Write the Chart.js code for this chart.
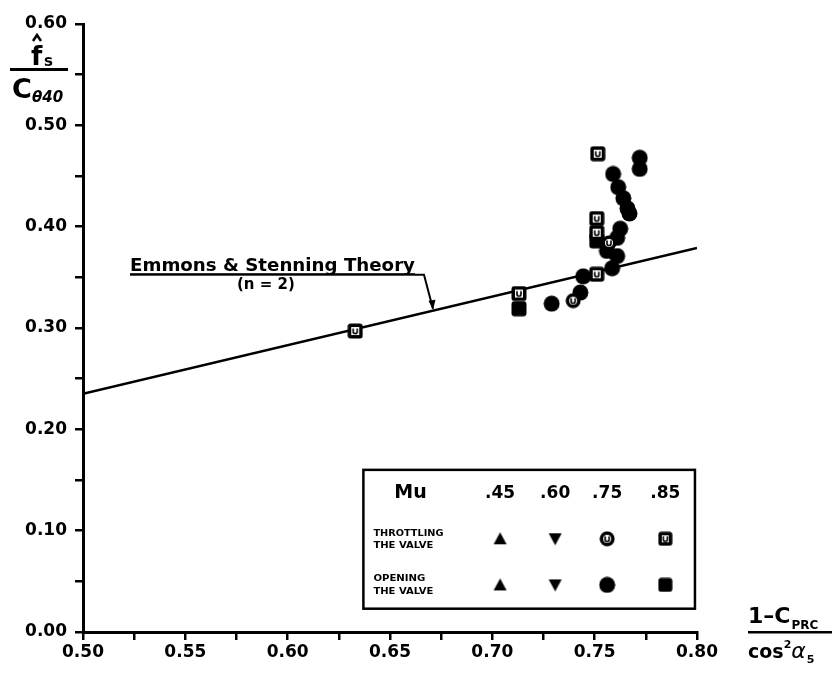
<!DOCTYPE html>
<html lang="en">
<head>
<meta charset="UTF-8" />
<title>Emmons & Stenning Theory</title>
<script src="https://cdn.jsdelivr.net/npm/chart.js"></script>
<style>
  html, body { margin: 0; padding: 0; background: #fff; }
  #wrap { width: 835px; height: 673px; }
</style>
</head>
<body>
<div id="wrap"><canvas id="chart" width="835" height="673"></canvas></div>
<script>
  // values
  const xTickLabels = ['0.50', '0.55', '0.60', '0.65', '0.70', '0.75', '0.80'];
  const yTickLabels = ['0.00', '0.10', '0.20', '0.30', '0.40', '0.50', '0.60'];

  // Emmons & Stenning theory (n = 2), straight line
  const theoryX = [0.50, 0.80];
  const theoryY = [0.235, 0.379];

  // Mu = .75, throttling the valve (open circle)
  const thr75X = [0.7395, 0.757];
  const thr75Y = [0.327, 0.384];

  // Mu = .85, throttling the valve (open square)
  const thr85X = [0.633, 0.713, 0.751, 0.751, 0.751, 0.7515];
  const thr85Y = [0.297, 0.334, 0.353, 0.394, 0.408, 0.472];

  // Mu = .75, opening the valve (filled circle)
  const open75X = [0.729, 0.743, 0.7444, 0.756, 0.7585, 0.761, 0.761, 0.7625, 0.766, 0.764, 0.7615, 0.759, 0.772, 0.772, 0.767];
  const open75Y = [0.324, 0.335, 0.351, 0.376, 0.359, 0.371, 0.389, 0.398, 0.418, 0.428, 0.439, 0.452, 0.457, 0.468, 0.413];

  // Mu = .85, opening the valve (filled square)
  const open85X = [0.713, 0.751];
  const open85Y = [0.319, 0.386];

  const legendCols = ['.45', '.60', '.75', '.85'];

  const FONT = '"DejaVu Sans", sans-serif';

  function pts(xs, ys) { return xs.map((x, i) => ({ x: x, y: ys[i] })); }

  // little marker images
  function marker(kind, size) {
    const c = document.createElement('canvas');
    c.width = size; c.height = size;
    const g = c.getContext('2d');
    const m = size / 2;
    g.fillStyle = '#000';
    g.strokeStyle = '#000';
    if (kind === 'square' || kind === 'openSquare') {
      g.beginPath();
      g.roundRect(0.5, 0.5, size - 1, size - 1, 3);
      g.fill();
      if (kind === 'openSquare') {
        g.fillStyle = '#fff';
        g.fillRect(4, 4, size - 8, size - 8);
      }
    } else if (kind === 'circle' || kind === 'openCircle') {
      g.beginPath();
      g.arc(m, m, m - 0.5, 0, Math.PI * 2);
      g.fill();
      if (kind === 'openCircle') {
        g.fillStyle = '#fff';
        g.beginPath();
        g.arc(m, m, m - 4, 0, Math.PI * 2);
        g.fill();
      }
    } else if (kind === 'up') {
      g.beginPath();
      g.moveTo(m, 1); g.lineTo(size - 1, size - 2); g.lineTo(1, size - 2);
      g.closePath(); g.fill();
    } else if (kind === 'down') {
      g.beginPath();
      g.moveTo(1, 2); g.lineTo(size - 1, 2); g.lineTo(m, size - 1);
      g.closePath(); g.fill();
    }
    if (kind === 'openSquare' || kind === 'openCircle') {
      // the small "u" inside the open symbols
      g.lineWidth = 1.6;
      g.beginPath();
      g.moveTo(m - 2, m - 2.5);
      g.lineTo(m - 2, m + 1);
      g.quadraticCurveTo(m - 2, m + 2.5, m, m + 2.5);
      g.quadraticCurveTo(m + 2, m + 2.5, m + 2, m + 1);
      g.lineTo(m + 2, m - 2.5);
      g.stroke();
    }
    return c;
  }

  const mk = {
    openSquare: marker('openSquare', 16),
    square: marker('square', 16),
    openCircle: marker('openCircle', 16),
    circle: marker('circle', 17)
  };
  const legendMk = {
    up: marker('up', 15),
    down: marker('down', 15),
    openCircle: marker('openCircle', 16),
    openSquare: marker('openSquare', 15),
    circle: marker('circle', 17),
    square: marker('square', 15)
  };

  function fitText(g, text, x, y, w) {
    const tw = g.measureText(text).width;
    g.save();
    g.translate(x, y);
    g.scale(w / tw, 1);
    g.fillText(text, 0, 0);
    g.restore();
  }

  const decorations = {
    id: 'decorations',
    beforeDraw(chart) {
      const g = chart.ctx;
      g.save();
      g.fillStyle = '#fff';
      g.fillRect(0, 0, chart.width, chart.height);
      g.restore();
    },
    afterDraw(chart) {
      const g = chart.ctx;
      const xs = chart.scales.x, ys = chart.scales.y;
      g.save();
      g.fillStyle = '#000';
      g.strokeStyle = '#000';
      g.textBaseline = 'alphabetic';
      g.textAlign = 'left';

      // y axis title: f-hat_s over C_theta40
      g.font = 'bold 26px ' + FONT;
      g.fillText('f', 31, 65);
      g.lineWidth = 2.5;
      g.beginPath();
      g.moveTo(33, 41); g.lineTo(37, 35); g.lineTo(41, 41);
      g.stroke();
      g.font = 'bold 15px ' + FONT;
      g.fillText('s', 44, 66);
      g.fillRect(10, 68, 58, 3);
      g.font = 'bold 27px ' + FONT;
      g.fillText('C', 12, 98);
      g.font = 'italic bold 15px ' + FONT;
      g.fillText('\u03b840', 32, 102);

      // x axis title: (1 - C_PRC) / cos^2 alpha_5
      let x0 = 748;
      g.font = 'bold 22px ' + FONT;
      g.fillText('1\u2013C', x0, 623);
      x0 += g.measureText('1\u2013C').width + 1;
      g.font = 'bold 12px ' + FONT;
      g.fillText('PRC', x0, 629);
      g.fillRect(748, 631, 84, 2.5);
      x0 = 748;
      g.font = 'bold 19px ' + FONT;
      g.fillText('cos', x0, 658);
      x0 += g.measureText('cos').width;
      g.font = 'bold 11px ' + FONT;
      g.fillText('2', x0, 648);
      x0 += g.measureText('2').width;
      g.font = 'italic 22px ' + FONT;
      g.fillText('\u03b1', x0, 658);
      x0 += g.measureText('\u03b1').width + 1;
      g.font = 'bold 11px ' + FONT;
      g.fillText('5', x0, 663);

      // theory annotation with leader arrow
      const ax = 0.671;
      const ay = theoryY[0] + (ax - theoryX[0]) * (theoryY[1] - theoryY[0]) / (theoryX[1] - theoryX[0]);
      const tipX = xs.getPixelForValue(ax), tipY = ys.getPixelForValue(ay);
      const lineEnd = tipX - 18, lineY = tipY - 36;
      g.font = 'bold 17px ' + FONT;
      fitText(g, 'Emmons & Stenning Theory', lineEnd - 285, lineY - 4, 285);
      g.fillRect(lineEnd - 285, lineY - 1.5, 285, 2.5);
      g.font = 'bold 15px ' + FONT;
      g.fillText('(n = 2)', lineEnd - 178, lineY + 14);
      g.lineWidth = 2;
      g.beginPath();
      g.moveTo(lineEnd, lineY);
      g.lineTo(lineEnd + 9, lineY);
      g.lineTo(tipX, tipY - 2);
      g.stroke();
      g.beginPath();
      g.moveTo(tipX, tipY - 1);
      g.lineTo(tipX - 4.5, tipY - 10);
      g.lineTo(tipX + 2.5, tipY - 11);
      g.closePath();
      g.fill();

      // legend box
      const L = xs.getPixelForValue(0.637), R = xs.getPixelForValue(0.799);
      const T = ys.getPixelForValue(0.160), B = ys.getPixelForValue(0.023);
      g.lineWidth = 2.5;
      g.strokeRect(L, T, R - L, B - T);
      const colX = [0.7038, 0.7307, 0.7561, 0.7845].map(v => xs.getPixelForValue(v));
      const rowH = ys.getPixelForValue(0.137);
      const row1 = ys.getPixelForValue(0.092);
      const row2 = ys.getPixelForValue(0.0465);
      g.textAlign = 'center';
      g.textBaseline = 'middle';
      g.font = 'bold 19px ' + FONT;
      g.fillText('Mu', xs.getPixelForValue(0.660), rowH);
      g.font = 'bold 17px ' + FONT;
      legendCols.forEach((t, i) => g.fillText(t, colX[i], rowH));
      g.textAlign = 'left';
      g.textBaseline = 'alphabetic';
      g.font = 'bold 9px ' + FONT;
      fitText(g, 'THROTTLING', L + 10, row1 - 3, 70);
      fitText(g, 'THE VALVE', L + 10, row1 + 9, 60);
      fitText(g, 'OPENING', L + 10, row2 - 4, 52);
      fitText(g, 'THE VALVE', L + 10, row2 + 9, 60);
      const r1 = [legendMk.up, legendMk.down, legendMk.openCircle, legendMk.openSquare];
      const r2 = [legendMk.up, legendMk.down, legendMk.circle, legendMk.square];
      r1.forEach((im, i) => g.drawImage(im, colX[i] - im.width / 2, row1 - im.height / 2));
      r2.forEach((im, i) => g.drawImage(im, colX[i] - im.width / 2, row2 - im.height / 2));

      g.restore();
    }
  };

  const ctx = document.getElementById('chart').getContext('2d');
  new Chart(ctx, {
    type: 'scatter',
    data: {
      datasets: [
        { label: 'Mu .75 throttling', data: pts(thr75X, thr75Y), pointStyle: mk.openCircle, pointRadius: 8, order: 1 },
        { label: 'Mu .75 opening', data: pts(open75X, open75Y), pointStyle: mk.circle, pointRadius: 8, order: 2 },
        { label: 'Mu .85 throttling', data: pts(thr85X, thr85Y), pointStyle: mk.openSquare, pointRadius: 8, order: 0 },
        { label: 'Mu .85 opening', data: pts(open85X, open85Y), pointStyle: mk.square, pointRadius: 8, order: 3 },
        {
          label: 'Emmons & Stenning Theory (n = 2)',
          data: pts(theoryX, theoryY),
          showLine: true,
          borderColor: '#000',
          borderWidth: 2.5,
          pointRadius: 0,
          order: 9
        }
      ]
    },
    options: {
      responsive: false,
      animation: false,
      layout: { padding: { left: 0, right: 138, top: 24, bottom: 0 } },
      plugins: {
        legend: { display: false },
        tooltip: { enabled: false }
      },
      scales: {
        x: {
          type: 'linear',
          min: 0.5,
          max: 0.8,
          afterFit(s) { s.height = 41; },
          border: { display: true, color: '#000', width: 3 },
          grid: { drawOnChartArea: false, drawTicks: true, tickLength: 8, color: '#000', lineWidth: 2.5 },
          ticks: {
            stepSize: 0.025,
            autoSkip: false,
            maxRotation: 0,
            padding: 2,
            color: '#000',
            font: { family: FONT, size: 17, weight: 'bold' },
            callback: v => {
              const i = Math.round((v - 0.5) / 0.025);
              return i % 2 === 0 ? xTickLabels[i / 2] : '';
            }
          }
        },
        y: {
          type: 'linear',
          min: 0,
          max: 0.6,
          afterFit(s) { s.width = 83; },
          border: { display: true, color: '#000', width: 3 },
          grid: { drawOnChartArea: false, drawTicks: true, tickLength: 8, color: '#000', lineWidth: 2.5 },
          ticks: {
            stepSize: 0.05,
            autoSkip: false,
            padding: 8,
            color: '#000',
            font: { family: FONT, size: 17, weight: 'bold' },
            callback: v => {
              const i = Math.round(v / 0.05);
              return i % 2 === 0 ? yTickLabels[i / 2] : '';
            }
          }
        }
      }
    },
    plugins: [decorations]
  });
</script>
</body>
</html>
